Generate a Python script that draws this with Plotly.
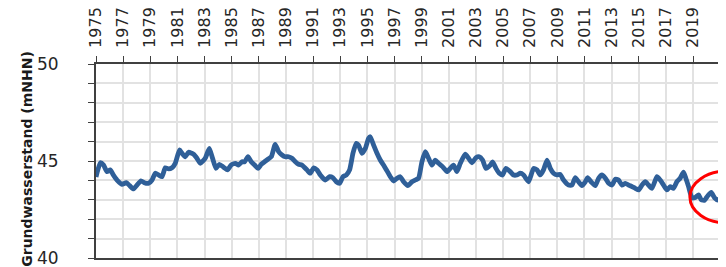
import plotly.graph_objects as go

# ---- data ----
YEARS = [
    1975.00, 1975.32, 1975.56, 1975.81, 1976.05, 1976.25, 1976.55, 1976.92, 1977.23, 1977.48,
    1977.77, 1978.02, 1978.32, 1978.56, 1978.88, 1979.13, 1979.37, 1979.61, 1979.86, 1980.11,
    1980.35, 1980.60, 1980.84, 1981.16, 1981.34, 1981.58, 1981.82, 1982.19, 1982.44, 1982.69,
    1983.05, 1983.35, 1983.59, 1983.84, 1984.09, 1984.40, 1984.70, 1984.95, 1985.27, 1985.51,
    1985.76, 1985.95, 1986.20, 1986.44, 1986.69, 1986.94, 1987.18, 1987.42, 1987.67, 1987.92,
    1988.21, 1988.46, 1988.71, 1988.95, 1989.19, 1989.44, 1989.69, 1989.93, 1990.18, 1990.55,
    1990.79, 1991.04, 1991.29, 1991.53, 1991.90, 1992.21, 1992.46, 1992.71, 1992.95, 1993.20,
    1993.45, 1993.69, 1993.94, 1994.18, 1994.35, 1994.60, 1994.85, 1995.09, 1995.21, 1995.46,
    1995.71, 1995.95, 1996.19, 1996.44, 1996.69, 1996.93, 1997.18, 1997.42, 1997.67, 1997.98,
    1998.29, 1998.53, 1998.77, 1999.02, 1999.27, 1999.51, 1999.76, 2000.00, 2000.25, 2000.54,
    2000.87, 2001.11, 2001.35, 2001.60, 2001.85, 2002.21, 2002.46, 2002.71, 2003.00, 2003.25,
    2003.49, 2003.74, 2004.06, 2004.23, 2004.48, 2004.72, 2004.96, 2005.21, 2005.53, 2005.77,
    2006.02, 2006.27, 2006.51, 2006.88, 2007.25, 2007.50, 2007.74, 2007.98, 2008.24, 2008.48,
    2008.72, 2008.97, 2009.21, 2009.46, 2009.83, 2010.08, 2010.32, 2010.56, 2010.81, 2011.06,
    2011.23, 2011.48, 2011.80, 2012.04, 2012.29, 2012.54, 2012.78, 2013.03, 2013.27, 2013.51,
    2013.76, 2014.01, 2014.25, 2014.50, 2014.74, 2014.99, 2015.24, 2015.48, 2015.72, 2015.97,
    2016.34, 2016.58, 2016.83, 2017.08, 2017.32, 2017.56, 2017.81, 2018.05, 2018.30, 2018.47,
    2018.67, 2018.92, 2019.16, 2019.41, 2019.61, 2019.85, 2020.10, 2020.34, 2020.59, 2020.84,
    2021.08, 2021.32, 2021.45,
]
LEVELS = [
    44.18, 44.91, 44.79, 44.45, 44.54, 44.31, 44.02, 43.80, 43.88, 43.73,
    43.56, 43.76, 43.98, 43.88, 43.85, 44.02, 44.37, 44.28, 44.19, 44.65,
    44.59, 44.65, 44.88, 45.57, 45.40, 45.22, 45.45, 45.35, 45.14, 44.88,
    45.14, 45.65, 45.14, 44.62, 44.83, 44.68, 44.54, 44.79, 44.88, 44.79,
    44.96, 44.96, 45.22, 44.96, 44.79, 44.62, 44.83, 44.96, 45.09, 45.22,
    45.86, 45.48, 45.31, 45.22, 45.22, 45.14, 44.96, 44.83, 44.79, 44.54,
    44.37, 44.65, 44.54, 44.28, 44.02, 44.19, 44.14, 43.93, 43.85, 44.19,
    44.28, 44.54, 45.40, 45.91, 45.82, 45.40, 45.65, 46.17, 46.25, 45.82,
    45.40, 45.05, 44.79, 44.50, 44.19, 43.97, 44.11, 44.19, 43.93, 43.73,
    43.93, 44.02, 44.11, 44.96, 45.48, 45.14, 44.79, 45.05, 44.88, 44.71,
    44.45, 44.62, 44.79, 44.45, 44.88, 45.35, 45.14, 44.91, 45.17, 45.22,
    45.05, 44.62, 44.79, 44.96, 44.62, 44.37, 44.28, 44.62, 44.45, 44.28,
    44.28, 44.37, 44.28, 43.93, 44.62, 44.54, 44.28, 44.54, 45.05, 44.62,
    44.37, 44.28, 44.31, 44.02, 43.76, 43.76, 44.14, 43.93, 43.73, 43.93,
    44.14, 43.93, 43.73, 44.11, 44.28, 44.11, 43.85, 43.76, 44.06, 44.02,
    43.76, 43.85, 43.76, 43.68, 43.59, 43.51, 43.76, 43.93, 43.76, 43.59,
    44.19, 44.02, 43.76, 43.51, 43.68, 43.59, 43.93, 44.11, 44.42, 44.11,
    43.68, 43.10, 43.12, 43.25, 43.00, 42.98, 43.22, 43.38, 43.10, 42.98,
    43.12, 43.35, 43.35,
]

X_TICK_YEARS = [1975, 1977, 1979, 1981, 1983, 1985, 1987, 1989, 1991, 1993, 1995, 1997,
                1999, 2001, 2003, 2005, 2007, 2009, 2011, 2013, 2015, 2017, 2019, 2021]
X_TICK_LABELS = [str(y) for y in X_TICK_YEARS]
Y_TICK_VALUES = [40, 45, 50]
Y_TICK_LABELS = ["40", "45", "50"]
REFERENCE_LEVEL = 45
Y_AXIS_TITLE = "Grundwasserstand (mNHN)"
HIGHLIGHT_YEARS = [2018.77, 2024.25]
HIGHLIGHT_LEVELS = [41.80, 44.48]

LINE_COLOR = "#2F5F98"
FRAME_COLOR = "#404040"
GRID_COLOR = "#e2e2e2"
FONT = "DejaVu Sans"

fig = go.Figure()
fig.add_trace(go.Scatter(
    x=YEARS, y=LEVELS, mode="lines",
    line=dict(color=LINE_COLOR, width=4.8, shape="spline", smoothing=0.5),
    hoverinfo="x+y",
))

fig.add_hline(y=REFERENCE_LEVEL, line=dict(color="#7a7a7a", width=2), layer="below")

fig.add_shape(type="circle", xref="x", yref="y",
              x0=HIGHLIGHT_YEARS[0], x1=HIGHLIGHT_YEARS[1],
              y0=HIGHLIGHT_LEVELS[0], y1=HIGHLIGHT_LEVELS[1],
              line=dict(color="#ff0000", width=3))

fig.add_annotation(text=Y_AXIS_TITLE, xref="paper", yref="paper",
                   x=-0.11, y=0.51, textangle=-90, showarrow=False,
                   font=dict(family=FONT, size=14, color="#1a1a1a", weight="bold"),
                   xanchor="center", yanchor="middle")

# the page body adds an 8px offset, so the figure is 718x259
fig.update_layout(
    width=718, height=259,
    margin=dict(l=88, r=0, t=56, b=9, autoexpand=False),
    plot_bgcolor="white", paper_bgcolor="white",
    showlegend=False,
    font=dict(family=FONT, color="#262626"),
)
fig.update_xaxes(
    range=[1975, 2021.43], side="top", automargin=False,
    tickmode="array", tickvals=X_TICK_YEARS, ticktext=X_TICK_LABELS,
    tickangle=-90, ticks="outside", ticklen=6, tickwidth=1.2, tickcolor=FRAME_COLOR,
    tickfont=dict(family=FONT, size=16, color="#262626"),
    ticklabelstandoff=5,
    showgrid=True, gridcolor=GRID_COLOR, gridwidth=1.5,
    showline=True, linecolor=FRAME_COLOR, linewidth=1.8, mirror=True,
    zeroline=False,
)
fig.update_yaxes(
    range=[40, 50], automargin=False,
    tickmode="array", tickvals=Y_TICK_VALUES, ticktext=Y_TICK_LABELS,
    ticks="outside", ticklen=6, tickwidth=1.2, tickcolor=FRAME_COLOR,
    tickfont=dict(family=FONT, size=17, color="#262626"),
    ticklabelstandoff=26, ticklabeloverflow="allow",
    minor=dict(dtick=1, ticks="outside", ticklen=6, tickcolor=FRAME_COLOR,
               showgrid=True, gridcolor=GRID_COLOR, gridwidth=1.5),
    showgrid=True, gridcolor=GRID_COLOR,
    showline=True, linecolor=FRAME_COLOR, linewidth=1.8, mirror=False,
    zeroline=False,
)

fig.write_html("out.html")
